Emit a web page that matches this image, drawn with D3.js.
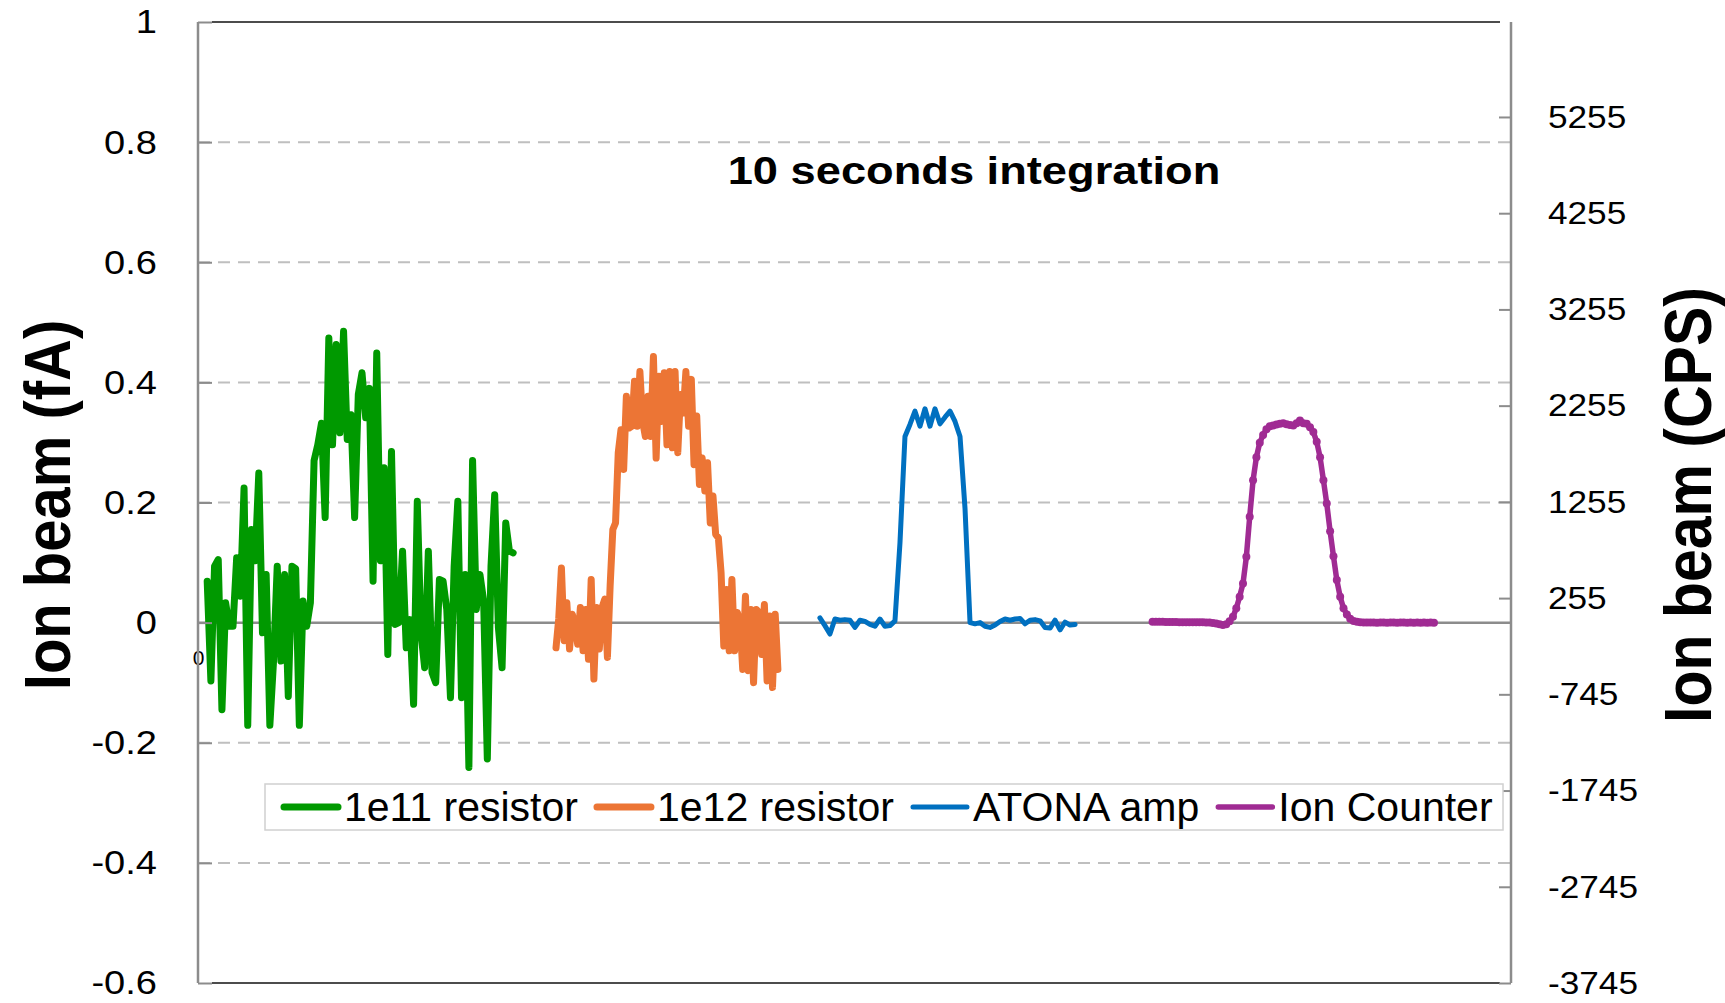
<!DOCTYPE html>
<html>
<head>
<meta charset="utf-8">
<script src="https://cdn.jsdelivr.net/npm/d3@7"></script>
<style>
    body { margin: 0; background: #fff; }
    text { font-family: "Liberation Sans", Arial, sans-serif; fill: #000; }
</style>
</head>
<body>
<div id="chart"></div>
<script>
// ---- values ----
var leftTicks = [-0.6, -0.4, -0.2, 0, 0.2, 0.4, 0.6, 0.8, 1];
var rightTicks = [-3745, -2745, -1745, -745, 255, 1255, 2255, 3255, 4255, 5255];
var cpsRange = [-3745, 6242];
var seriesNames = ["1e11 resistor", "1e12 resistor", "ATONA amp", "Ion Counter"];

// span (sample index on a shared 0..300 axis) covered by each trace
var spans = [[2.1, 72.0], [81.8, 132.5], [142.1, 200.4], [218.1, 282.4]];

// fA
var r1e11 = [0.069, -0.097, 0.094, 0.105, -0.145, 0.033, -0.006, -0.006, 0.108, 0.044,
    0.224, -0.171, 0.155, 0.103, 0.249, -0.017, 0.080, -0.171, -0.064, 0.094,
    -0.064, 0.080, -0.123, 0.094, 0.090, -0.171, 0.036, -0.006, 0.033, 0.270,
    0.296, 0.332, 0.175, 0.474, 0.296, 0.463, 0.316, 0.485, 0.305, 0.346,
    0.175, 0.380, 0.416, 0.341, 0.390, 0.069, 0.449, 0.103, 0.258, -0.053,
    0.285, -0.003, 0.000, 0.119, -0.042, 0.005, -0.136, 0.202, -0.017, -0.075,
    0.119, -0.083, -0.100, 0.072, 0.069, 0.022, -0.125, 0.094, 0.202, -0.125,
    0.080, -0.241, 0.270, 0.022, 0.080, 0.036, -0.227, 0.094, 0.213, -0.008,
    -0.075, 0.166, 0.119, 0.116];

var r1e12 = [-0.042, 0.006, 0.091, -0.030, 0.033, -0.044, 0.014, -0.003, -0.036, 0.025,
    -0.047, 0.022, -0.061, 0.072, -0.094, 0.025, -0.044, 0.025, 0.039, -0.058,
    0.061, 0.155, 0.166, 0.283, 0.321, 0.255, 0.377, 0.324, 0.327, 0.402,
    0.327, 0.418, 0.335, 0.310, 0.377, 0.310, 0.443, 0.274, 0.410, 0.335,
    0.416, 0.296, 0.418, 0.291, 0.418, 0.283, 0.380, 0.349, 0.418, 0.327,
    0.405, 0.263, 0.344, 0.230, 0.274, 0.219, 0.266, 0.166, 0.211, 0.147,
    0.141, 0.083, -0.039, 0.055, -0.047, 0.072, -0.047, 0.017, 0.000, -0.078,
    0.044, -0.080, 0.022, -0.100, 0.022, 0.017, -0.053, 0.030, -0.097, 0.011,
    -0.108, 0.014, -0.078];

var atona = [0.008, -0.005, -0.019, 0.006, 0.004, 0.005, 0.004, -0.008, 0.004, 0.002,
    -0.003, -0.006, 0.006, -0.006, -0.005, 0.003, 0.133, 0.310, 0.330, 0.352,
    0.327, 0.356, 0.327, 0.356, 0.331, 0.342, 0.352, 0.335, 0.310, 0.190,
    0.000, -0.002, 0.000, -0.006, -0.008, -0.004, 0.002, 0.006, 0.004, 0.006,
    0.007, -0.002, 0.004, 0.005, 0.003, -0.008, -0.009, 0.004, -0.012, 0.001,
    -0.004, -0.003];

// CPS (secondary axis)
var ionCounter = [10, 10, 8, 8, 7, 6, 6, 6, 5, 5,
    5, 4, 4, 4, 3, 3, 2, 1, -4, -10,
    -18, -24, -18, 15, 62, 150, 270, 408, 684, 1100,
    1479, 1720, 1870, 1950, 2010, 2040, 2049, 2060, 2068, 2073,
    2062, 2055, 2049, 2073, 2100, 2073, 2066, 2030, 1980, 1880,
    1720, 1480, 1237, 950, 690, 442, 269, 150, 85, 40,
    18, 8, 3, 2, 1, 2, 1, 0, 1, 2,
    0, 1, 1, 0, 2, 1, 0, 1, 0, 1,
    0, 1, 0, 1, 0];

var series = [
    { name: seriesNames[0], values: r1e11, span: spans[0], color: "#009900", width: 7, axis: "left" },
    { name: seriesNames[1], values: r1e12, span: spans[1], color: "#EC7535", width: 7, axis: "left" },
    { name: seriesNames[2], values: atona, span: spans[2], color: "#0070C0", width: 5, axis: "left" },
    { name: seriesNames[3], values: ionCounter, span: spans[3], color: "#A02B93", width: 5.5, axis: "right", marker: true }
];

var vis = {};
vis.margin = { top: 22, right: 214, bottom: 20, left: 198 };
vis.width = 1725 - vis.margin.left - vis.margin.right;
vis.height = 1003 - vis.margin.top - vis.margin.bottom;

vis.svgRoot = d3.select("#chart").append("svg")
    .attr("width", 1725)
    .attr("height", 1003);

vis.svg = vis.svgRoot.append("g")
    .attr("transform", "translate(" + vis.margin.left + "," + vis.margin.top + ")");

// Scales
vis.x = d3.scaleLinear().domain([0, 300]).range([0, vis.width]);
vis.y = d3.scaleLinear().domain([leftTicks[0], leftTicks[leftTicks.length - 1]]).range([vis.height, 0]);
vis.y2 = d3.scaleLinear().domain(cpsRange).range([vis.height, 0]);

// Gridlines (dashed)
vis.svg.selectAll(".grid")
    .data(leftTicks.filter(function(d){ return d !== 0 && d !== leftTicks[0] && d !== 1; }))
    .enter().append("line")
    .attr("class", "grid")
    .attr("x1", 0).attr("x2", vis.width)
    .attr("y1", function(d){ return vis.y(d); })
    .attr("y2", function(d){ return vis.y(d); })
    .style("stroke", "#bfbfbf")
    .style("stroke-width", 2)
    .style("stroke-dasharray", "12,8");

// top / bottom frame
[1, leftTicks[0]].forEach(function(v){
    vis.svg.append("line")
        .attr("x1", 14).attr("x2", vis.width - 11)
        .attr("y1", vis.y(v)).attr("y2", vis.y(v))
        .style("stroke", "#111")
        .style("stroke-width", 1.6);
});

// zero line
vis.svg.append("line")
    .attr("x1", 0).attr("x2", vis.width)
    .attr("y1", vis.y(0)).attr("y2", vis.y(0))
    .style("stroke", "#8c8c8c")
    .style("stroke-width", 2.5);

// x axis crossing at zero, only a "0" label
vis.xAxis = d3.axisBottom(vis.x).tickValues([0]).tickSize(0).tickPadding(27);
vis.svg.append("g")
    .attr("transform", "translate(0," + vis.y(0) + ")")
    .call(vis.xAxis)
    .call(function(g){ g.select(".domain").remove(); })
    .selectAll("text")
    .style("font-size", "21px")
    .style("font-family", "'Liberation Sans', Arial, sans-serif");

// Lines
series.forEach(function(s){
    var n = s.values.length;
    var pts = s.values.map(function(v, i){
        return { x: s.span[0] + (s.span[1] - s.span[0]) * i / (n - 1), v: v };
    });
    var yScale = s.axis === "left" ? vis.y : vis.y2;
    var line = d3.line()
        .x(function(d){ return vis.x(d.x); })
        .y(function(d){ return yScale(d.v); });

    vis.svg.append("path")
        .datum(pts)
        .attr("d", line)
        .style("fill", "none")
        .style("stroke", s.color)
        .style("stroke-width", s.width)
        .style("stroke-linejoin", "round")
        .style("stroke-linecap", "round");

    if (s.marker) {
        vis.svg.selectAll(".dot")
            .data(pts)
            .enter().append("circle")
            .attr("class", "dot")
            .attr("cx", function(d){ return vis.x(d.x); })
            .attr("cy", function(d){ return yScale(d.v); })
            .attr("r", 4)
            .style("fill", s.color);
    }
});

// Left axis
vis.yAxis = d3.axisLeft(vis.y)
    .tickValues(leftTicks)
    .tickSize(-14)
    .tickPadding(41)
    .tickFormat(function(d){ return String(d); });

vis.svg.append("g")
    .attr("class", "axis--y")
    .call(vis.yAxis)
    .call(function(g){
        g.select(".domain").remove();
        g.selectAll("line").style("stroke", "#8c8c8c").style("stroke-width", 2);
        g.selectAll("text")
            .attr("x", -41 / 1.12)
            .attr("transform", "scale(1.12,1)")
            .style("font-size", "34px")
            .style("font-family", "'Liberation Sans', Arial, sans-serif");
    });

vis.svg.append("line")
    .attr("x1", 0).attr("x2", 0).attr("y1", 0).attr("y2", vis.height)
    .style("stroke", "#8c8c8c").style("stroke-width", 2.5);

// Right axis
vis.y2Axis = d3.axisRight(vis.y2)
    .tickValues(rightTicks)
    .tickSize(-12)
    .tickPadding(37)
    .tickFormat(function(d){ return String(d); });

vis.svg.append("g")
    .attr("class", "axis--y2")
    .attr("transform", "translate(" + vis.width + ",0)")
    .call(vis.y2Axis)
    .call(function(g){
        g.select(".domain").remove();
        g.selectAll("line").style("stroke", "#8c8c8c").style("stroke-width", 2);
        g.selectAll("text")
            .attr("x", 37 / 1.1)
            .attr("transform", "scale(1.1,1)")
            .style("font-size", "32px")
            .style("font-family", "'Liberation Sans', Arial, sans-serif");
    });

vis.svg.append("line")
    .attr("x1", vis.width).attr("x2", vis.width).attr("y1", 0).attr("y2", vis.height)
    .style("stroke", "#8c8c8c").style("stroke-width", 2.5);

// Axis titles
vis.svgRoot.append("text")
    .attr("transform", "translate(70,505) scale(1.12,1) rotate(-90)")
    .attr("text-anchor", "middle")
    .style("font-size", "58px")
    .style("font-weight", "bold")
    .text("Ion beam (fA)");

vis.svgRoot.append("text")
    .attr("transform", "translate(1711,505) scale(1.12,1) rotate(-90)")
    .attr("text-anchor", "middle")
    .style("font-size", "59px")
    .style("font-weight", "bold")
    .text("Ion beam (CPS)");

// Chart title
vis.svgRoot.append("text")
    .attr("transform", "translate(974,184) scale(1.16,1)")
    .attr("text-anchor", "middle")
    .style("font-size", "39px")
    .style("font-weight", "bold")
    .text("10 seconds integration");

// Legend
vis.legend = vis.svgRoot.append("g").attr("class", "legend");
vis.legend.append("rect")
    .attr("x", 265).attr("y", 784)
    .attr("width", 1238).attr("height", 46)
    .style("fill", "#fff")
    .style("stroke", "#d0d0d0")
    .style("stroke-width", 1.5);

var lx = 284;
series.forEach(function(s){
    vis.legend.append("line")
        .attr("x1", lx).attr("x2", lx + 54)
        .attr("y1", 807).attr("y2", 807)
        .style("stroke", s.color)
        .style("stroke-width", s.width)
        .style("stroke-linecap", "round");
    var t = vis.legend.append("text")
        .attr("x", lx + 60)
        .attr("y", 807)
        .attr("dy", "0.35em")
        .style("font-size", "41px")
        .text(s.name);
    lx += 60 + t.node().getComputedTextLength() + 19;
});
</script>
</body>
</html>
